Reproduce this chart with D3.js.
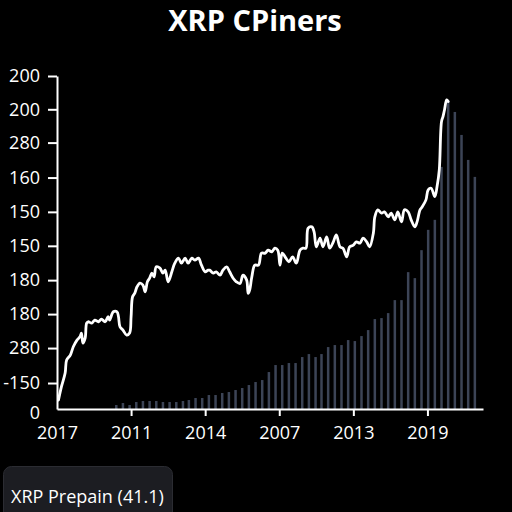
<!DOCTYPE html>
<html>
<head>
<meta charset="utf-8">
<script src="https://cdn.jsdelivr.net/npm/d3@7"></script>
<style>
  body { margin: 0; background: #000; }
  svg { display: block; }
</style>
</head>
<body>
<script>
// chart values
var title = "XRP CPiners";
var legendLabel = "XRP Prepain (41.1)";

var xTickValues = [0, 1, 2, 3, 4, 5];
var xTickLabels = ["2017", "2011", "2014", "2007", "2013", "2019"];

var yTickValues = [100, 90, 80, 69.5, 59.2, 49, 38.7, 28.5, 18.3, 7.8, 0];
var yTickLabels = ["200", "200", "280", "160", "150", "150", "180", "180", "280", "-150", "0"];

// line series: time (years from start) and value
var lineT = [0.02, 0.06, 0.11, 0.13, 0.18, 0.22, 0.27, 0.31, 0.33, 0.35, 0.38, 0.40, 0.42, 0.47, 0.51,
    0.56, 0.60, 0.65, 0.69, 0.71, 0.76, 0.81, 0.83, 0.85, 0.89, 0.94, 0.98, 1.00, 1.02, 1.05, 1.08,
    1.12, 1.16, 1.19, 1.22, 1.25, 1.28, 1.31, 1.34, 1.39, 1.43, 1.46, 1.50, 1.55, 1.59, 1.64, 1.68,
    1.73, 1.77, 1.82, 1.86, 1.91, 1.95, 2.00, 2.04, 2.06, 2.11, 2.15, 2.20, 2.24, 2.29, 2.33, 2.38,
    2.42, 2.47, 2.51, 2.56, 2.58, 2.60, 2.63, 2.67, 2.72, 2.76, 2.81, 2.85, 2.90, 2.94, 2.98, 3.01,
    3.04, 3.09, 3.13, 3.18, 3.23, 3.28, 3.32, 3.36, 3.39, 3.44, 3.47, 3.50, 3.55, 3.59, 3.64, 3.68,
    3.73, 3.77, 3.82, 3.86, 3.91, 3.95, 4.00, 4.04, 4.09, 4.13, 4.18, 4.22, 4.27, 4.29, 4.33, 4.38,
    4.42, 4.47, 4.51, 4.56, 4.60, 4.65, 4.69, 4.74, 4.78, 4.83, 4.86, 4.90, 4.93, 4.98, 5.01, 5.05,
    5.10, 5.13, 5.16, 5.19, 5.21, 5.23, 5.26, 5.28];
var lineV = [2.7, 6.7, 10.8, 14.7, 16.2, 18.7, 20.7, 21.7, 22.8, 19.8, 21.3, 25.8, 26.2, 25.8, 26.7,
    26.2, 27.0, 26.2, 27.7, 26.7, 29.2, 29.2, 27.7, 24.7, 23.7, 22.2, 22.8, 27.7, 33.7, 34.8, 36.7,
    37.8, 37.2, 35.2, 38.2, 39.3, 40.8, 39.7, 42.7, 42.3, 40.8, 41.7, 38.2, 41.2, 43.8, 45.3, 43.8,
    45.3, 43.8, 45.3, 44.7, 45.3, 43.2, 41.2, 41.7, 41.7, 40.8, 41.2, 40.2, 41.7, 42.7, 41.2, 39.2,
    38.2, 37.7, 40.2, 38.7, 34.7, 35.7, 39.7, 43.2, 43.2, 46.8, 46.8, 47.7, 47.2, 48.3, 47.7, 43.2,
    46.8, 45.3, 44.2, 45.7, 43.8, 47.7, 48.3, 48.3, 54.3, 54.7, 53.2, 48.7, 51.3, 48.7, 51.7, 48.3,
    50.2, 52.3, 48.7, 48.3, 45.7, 48.7, 49.2, 50.2, 49.8, 51.3, 50.2, 48.7, 52.8, 57.7, 59.8, 58.8,
    59.2, 57.7, 58.8, 56.8, 59.2, 56.2, 59.8, 59.2, 56.8, 54.7, 56.2, 59.8, 60.7, 62.8, 65.8, 66.3,
    63.8, 66.8, 71.8, 86.3, 87.8, 89.8, 92.8, 92.3];

// bar series: time and value
var barT = [0.80, 0.89, 0.98, 1.07, 1.16, 1.25, 1.34, 1.43, 1.52, 1.61, 1.70, 1.78, 1.87, 1.96, 2.05,
    2.14, 2.23, 2.32, 2.41, 2.50, 2.59, 2.68, 2.77, 2.86, 2.95, 3.04, 3.13, 3.22, 3.31, 3.40, 3.49,
    3.57, 3.66, 3.75, 3.84, 3.93, 4.02, 4.11, 4.20, 4.29, 4.38, 4.47, 4.56, 4.65, 4.74, 4.83, 4.92,
    5.01, 5.10, 5.19, 5.28, 5.37, 5.46, 5.55, 5.64];
var barV = [1.2, 1.8, 1.2, 2.1, 2.4, 2.4, 2.4, 2.1, 2.1, 2.1, 2.4, 2.7, 3.3, 3.3, 4.2,
    4.2, 4.8, 5.1, 5.7, 6.3, 7.2, 8.1, 8.7, 11.1, 13.2, 13.2, 13.8, 13.8, 15.6, 16.5, 15.6,
    16.5, 18.6, 19.2, 19.2, 20.7, 20.4, 21.9, 23.7, 27.0, 27.3, 28.8, 32.7, 32.7, 41.1, 39.3, 47.7,
    53.8, 56.8, 72.7, 92.8, 89.2, 82.3, 74.8, 69.7];

var width = 512;
var height = 512;

var svg = d3.select("body")
    .append("svg")
    .attr("width", width)
    .attr("height", height);

svg.append("rect")
    .attr("width", width)
    .attr("height", height)
    .attr("fill", "#000");

// scales
var x = d3.scaleLinear()
    .domain([0, 5.75])
    .range([57, 483]);
var y = d3.scaleLinear()
    .domain([0, 100])
    .range([409, 76]);

// title
svg.append("text")
    .attr("x", 255)
    .attr("y", 31)
    .attr("text-anchor", "middle")
    .attr("fill", "#fff")
    .style("font-family", "'Open Sans', sans-serif")
    .style("font-weight", 700)
    .style("font-size", "29px")
    .text(title);

// bars
svg.append("g")
    .selectAll("rect")
    .data(barV)
    .enter()
    .append("rect")
    .attr("x", function(d, i) { return x(barT[i]) - 1.25; })
    .attr("width", 2.5)
    .attr("y", function(d) { return y(d); })
    .attr("height", function(d) { return y(0) - y(d); })
    .attr("fill", "#3c4456");

// line
var points = lineT.map(function(t, i) { return [t, lineV[i]]; });
var line = d3.line()
    .x(function(d) { return x(d[0]); })
    .y(function(d) { return y(d[1]); })
    .curve(d3.curveCatmullRom);

svg.append("path")
    .datum(points)
    .attr("d", line)
    .attr("fill", "none")
    .attr("stroke", "#fff")
    .attr("stroke-width", 2.8)
    .attr("stroke-linejoin", "round")
    .attr("stroke-linecap", "round");

// axes
var xAxis = svg.append("g")
    .attr("transform", "translate(0," + y(0) + ")")
    .call(d3.axisBottom(x)
        .tickValues(xTickValues)
        .tickFormat(function(d, i) { return xTickLabels[i]; })
        .tickSize(7)
        .tickPadding(10)
        .tickSizeOuter(0));

var yAxis = svg.append("g")
    .attr("transform", "translate(" + x(0) + ",0)")
    .call(d3.axisLeft(y)
        .tickValues(yTickValues)
        .tickFormat(function(d, i) { return yTickLabels[i]; })
        .tickSize(9)
        .tickPadding(8)
        .tickSizeOuter(0));

[xAxis, yAxis].forEach(function(g) {
    g.select(".domain").attr("stroke", "#fff").attr("stroke-width", 2);
    g.selectAll(".tick line").attr("stroke", "#fff").attr("stroke-width", 2);
    g.selectAll(".tick text")
        .attr("fill", "#fff")
        .style("font-family", "'Open Sans', sans-serif")
        .style("font-size", "18px");
});
// first x tick and the zero y tick sit on the corner, no mark there
xAxis.selectAll(".tick line").filter(function(d) { return d === 0; }).remove();
yAxis.selectAll(".tick line").filter(function(d) { return d === 0; }).remove();
yAxis.selectAll(".tick text").filter(function(d) { return d === 0; }).attr("dy", "0.5em");

// legend box
var legend = svg.append("g");
legend.append("rect")
    .attr("x", 3.5)
    .attr("y", 466.5)
    .attr("width", 169)
    .attr("height", 60)
    .attr("rx", 8)
    .attr("fill", "#1c1d22")
    .attr("stroke", "#2b2c32");
legend.append("text")
    .attr("x", 11)
    .attr("y", 503)
    .attr("fill", "#fff")
    .style("font-family", "'Open Sans', sans-serif")
    .style("font-size", "18px")
    .text(legendLabel);
</script>
</body>
</html>
